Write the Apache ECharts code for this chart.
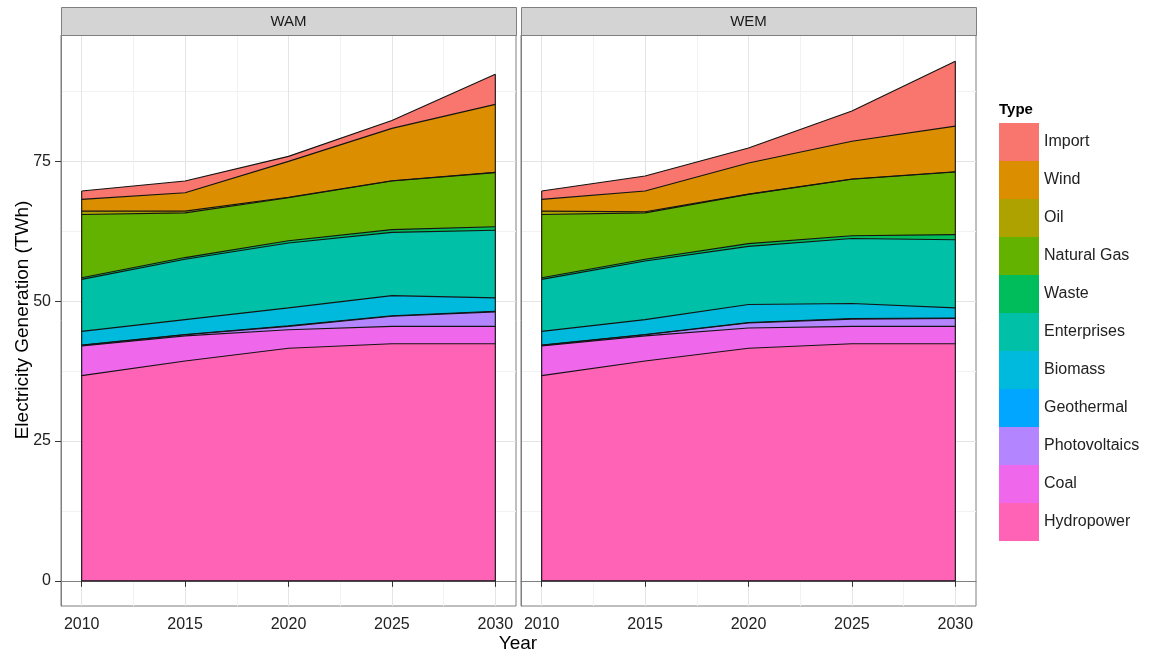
<!DOCTYPE html>
<html>
<head>
<meta charset="utf-8">
<script src="https://cdn.jsdelivr.net/npm/echarts/dist/echarts.min.js"></script>
<style>
html,body{margin:0;padding:0;background:#fff;}
#chart{width:1173px;height:666px;}
</style>
</head>
<body>
<div id="chart"></div>
<script>
// ---- DATA ----
const YEARS = [2010, 2015, 2020, 2025, 2030];
const X_TICKS = [2010, 2015, 2020, 2025, 2030];
const X_MINOR = [2012.5, 2017.5, 2022.5, 2027.5];
const Y_TICKS = [0, 25, 50, 75];
const Y_MINOR = [12.5, 37.5, 62.5, 87.5];
const PANELS = ['WAM', 'WEM'];
// stacking order: bottom to top
const TYPES = ['Hydropower', 'Coal', 'Photovoltaics', 'Geothermal', 'Biomass', 'Enterprises', 'Waste', 'Natural Gas', 'Oil', 'Wind', 'Import'];
const COLORS = ['#FF63B6', '#EF67EB', '#B385FF', '#00A6FF', '#00BADE', '#00C1A7', '#00BD5C', '#64B200', '#AEA200', '#DB8E00', '#F8766D'];

const WAM_Hydropower    = [36.7, 39.3, 41.6, 42.4, 42.4];
const WAM_Coal          = [5.3, 4.5, 3.3, 3.1, 3.1];
const WAM_Photovoltaics = [0.1, 0.2, 0.6, 1.8, 2.6];
const WAM_Geothermal    = [0.05, 0.05, 0.1, 0.1, 0.1];
const WAM_Biomass       = [2.45, 2.65, 3.2, 3.6, 2.4];
const WAM_Enterprises   = [9.3, 10.8, 11.6, 11.3, 12.1];
const WAM_Waste         = [0.3, 0.3, 0.4, 0.5, 0.6];
const WAM_NaturalGas    = [11.3, 8.0, 7.7, 8.7, 9.7];
const WAM_Oil           = [0.6, 0.3, 0.1, 0.05, 0.05];
const WAM_Wind          = [2.1, 3.3, 6.4, 9.35, 12.15];
const WAM_Import        = [1.5, 2.1, 0.9, 1.4, 5.4];

const WEM_Hydropower    = [36.7, 39.3, 41.6, 42.4, 42.4];
const WEM_Coal          = [5.3, 4.5, 3.6, 3.1, 3.1];
const WEM_Photovoltaics = [0.1, 0.2, 0.9, 1.3, 1.4];
const WEM_Geothermal    = [0.05, 0.05, 0.1, 0.1, 0.1];
const WEM_Biomass       = [2.45, 2.65, 3.2, 2.7, 1.8];
const WEM_Enterprises   = [9.3, 10.5, 10.4, 11.6, 12.2];
const WEM_Waste         = [0.3, 0.3, 0.5, 0.5, 0.9];
const WEM_NaturalGas    = [11.3, 8.3, 8.8, 10.1, 11.2];
const WEM_Oil           = [0.6, 0.2, 0.05, 0.05, 0.05];
const WEM_Wind          = [2.1, 3.7, 5.55, 6.75, 8.15];
const WEM_Import        = [1.5, 2.7, 2.7, 5.4, 11.6];

const DATA = {
  WAM: [WAM_Hydropower, WAM_Coal, WAM_Photovoltaics, WAM_Geothermal, WAM_Biomass, WAM_Enterprises, WAM_Waste, WAM_NaturalGas, WAM_Oil, WAM_Wind, WAM_Import],
  WEM: [WEM_Hydropower, WEM_Coal, WEM_Photovoltaics, WEM_Geothermal, WEM_Biomass, WEM_Enterprises, WEM_Waste, WEM_NaturalGas, WEM_Oil, WEM_Wind, WEM_Import]
};

// ---- LAYOUT ----
const GRIDS = [{left: 61, top: 35, width: 455, height: 571}, {left: 521, top: 35, width: 455, height: 571}];
const XMIN = 2009, XMAX = 2031, YMIN = -4.5, YMAX = 97.6;
const TXT = '#222';
const FONT = 'Liberation Sans, Arial, sans-serif';
const OUTLINE = '#141414';

const chart = echarts.init(document.getElementById('chart'), null, {renderer: 'canvas'});

const xAxes = [], yAxes = [], series = [];
GRIDS.forEach((g, gi) => {
  xAxes.push({
    gridIndex: gi, type: 'value', min: XMIN, max: XMAX, position: 'bottom',
    axisLine: {show: true, lineStyle: {color: '#7F7F7F', width: 1}},
    axisTick: {show: true, customValues: X_TICKS, length: 6, lineStyle: {color: '#333', width: 1}},
    axisLabel: {customValues: X_TICKS, margin: 11, color: TXT, fontSize: 16, fontFamily: FONT, formatter: v => String(v)},
    splitLine: {show: true, lineStyle: {color: '#E4E4E4', width: 1}}
  });
  xAxes.push({
    gridIndex: gi, type: 'value', min: XMIN, max: XMAX, position: 'top',
    axisLine: {show: false}, axisLabel: {show: false},
    axisTick: {show: false, customValues: X_MINOR},
    splitLine: {show: true, lineStyle: {color: '#F2F2F2', width: 1}}
  });
  yAxes.push({
    gridIndex: gi, type: 'value', min: YMIN, max: YMAX, position: 'left',
    axisLine: {show: true, lineStyle: {color: '#7F7F7F', width: 1}},
    axisTick: {show: gi === 0, customValues: Y_TICKS, length: 6, lineStyle: {color: '#333', width: 1}},
    axisLabel: {show: gi === 0, customValues: Y_TICKS, margin: 10, color: TXT, fontSize: 16, fontFamily: FONT},
    splitLine: {show: true, lineStyle: {color: '#E4E4E4', width: 1}}
  });
  yAxes.push({
    gridIndex: gi, type: 'value', min: YMIN, max: YMAX, position: 'right',
    axisLine: {show: false}, axisLabel: {show: false},
    axisTick: {show: false, customValues: Y_MINOR},
    splitLine: {show: true, lineStyle: {color: '#F2F2F2', width: 1}}
  });

  const panel = PANELS[gi];
  const vals = DATA[panel];
  // cumulative tops of each layer (stack bottom -> top)
  const running = YEARS.map(() => 0);
  const tops = vals.map(arr => arr.map((v, i) => (running[i] += v)));
  TYPES.forEach((t, ti) => {
    series.push({
      name: t, type: 'line', xAxisIndex: gi * 2, yAxisIndex: gi * 2,
      symbol: 'none', showSymbol: false,
      data: YEARS.map((y, i) => [y, tops[ti][i]]),
      itemStyle: {color: COLORS[ti]},
      lineStyle: {color: OUTLINE, width: 1.1},
      areaStyle: {color: COLORS[ti], opacity: 1, origin: 0},
      z: 2, animation: false, silent: true
    });
  });
  // outline of the whole stack (left edge, bottom, right edge)
  const totals = tops[tops.length - 1];
  const last = YEARS.length - 1;
  series.push({
    name: panel + '_outline', type: 'line', xAxisIndex: gi * 2, yAxisIndex: gi * 2,
    symbol: 'none', showSymbol: false,
    data: [[YEARS[0], totals[0]], [YEARS[0], 0], [YEARS[last], 0], [YEARS[last], totals[last]]],
    lineStyle: {color: OUTLINE, width: 1.1}, z: 5, animation: false, silent: true
  });
});

// draw order: within a panel, top layers first so lower layers paint over them
const ordered = [];
[0, 1].forEach(gi => {
  const base = gi * (TYPES.length + 1);
  for (let ti = TYPES.length - 1; ti >= 0; ti--) ordered.push(series[base + ti]);
  ordered.push(series[base + TYPES.length]);
});

const graphics = [];
GRIDS.forEach((g, gi) => {
  graphics.push({
    type: 'rect', left: g.left, top: 7, shape: {width: g.width, height: 28},
    style: {fill: '#D4D4D4', stroke: '#7F7F7F', lineWidth: 1}, z: 10
  });
  graphics.push({
    type: 'text', x: g.left + g.width / 2, y: 22,
    style: {text: PANELS[gi], fill: '#1a1a1a', font: '15px ' + FONT, textAlign: 'center', textVerticalAlign: 'middle'}, z: 11
  });
});
graphics.push({
  type: 'text', x: 518, y: 644,
  style: {text: 'Year', fill: '#000', font: '19px ' + FONT, textAlign: 'center', textVerticalAlign: 'middle'}
});
graphics.push({
  type: 'text', x: 23, y: 320, rotation: Math.PI / 2,
  style: {text: 'Electricity Generation (TWh)', fill: '#000', font: '19px ' + FONT, textAlign: 'center', textVerticalAlign: 'middle'}
});
graphics.push({
  type: 'text', x: 999, y: 110,
  style: {text: 'Type', fill: '#000', font: 'bold 15px ' + FONT, textAlign: 'left', textVerticalAlign: 'middle'}
});

chart.setOption({
  animation: false,
  backgroundColor: '#fff',
  grid: GRIDS.map(g => ({left: g.left, top: g.top, width: g.width, height: g.height, show: true, borderColor: '#7F7F7F', borderWidth: 1, backgroundColor: '#fff', containLabel: false})),
  xAxis: xAxes,
  yAxis: yAxes,
  legend: {
    data: TYPES.slice().reverse().map(t => ({name: t, icon: 'rect'})),
    orient: 'vertical', left: 999, top: 123, padding: 0,
    itemWidth: 40, itemHeight: 38, itemGap: 0, selectedMode: false,
    itemStyle: {borderWidth: 0},
    textStyle: {color: TXT, fontSize: 16, fontFamily: FONT}
  },
  graphic: graphics,
  series: ordered
});
</script>
</body>
</html>
